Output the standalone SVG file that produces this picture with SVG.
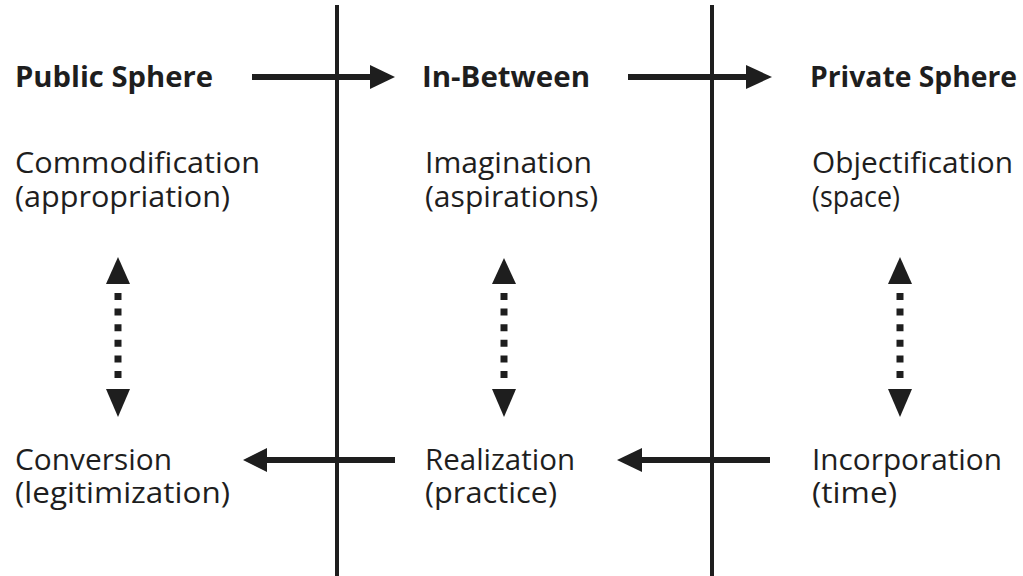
<svg xmlns="http://www.w3.org/2000/svg" width="1023" height="576" viewBox="0 0 1023 576">
<style>
.t{font-family:"Open Sans","Noto Sans",sans-serif;font-size:29px;fill:#1e1e1e}
.h{font-family:"Open Sans","Noto Sans",sans-serif;font-size:28px;font-weight:bold;fill:#1e1e1e}
.ln{stroke:#1e1e1e;stroke-width:4;fill:none}
.ar{stroke:#1e1e1e;stroke-width:6;fill:none}
.dt{stroke:#1e1e1e;stroke-width:7;stroke-dasharray:7 8.6;fill:none}
.hd{fill:#1e1e1e}
</style>
<rect width="1023" height="576" fill="#ffffff"/>
<g id="dividers">
<line class="ln" x1="337" y1="5" x2="337" y2="576"/>
<line class="ln" x1="712" y1="5" x2="712" y2="576"/>
</g>
<g id="connectors">
<line class="ar" x1="252" y1="77" x2="374" y2="77"/>
<polygon class="hd" points="370,65 395,77 370,89"/>
<line class="ar" x1="628" y1="77" x2="750" y2="77"/>
<polygon class="hd" points="746,65 772,77 746,89"/>
<line class="ar" x1="395" y1="460" x2="263" y2="460"/>
<polygon class="hd" points="267,448 243,460 267,472"/>
<line class="ar" x1="770" y1="460" x2="638" y2="460"/>
<polygon class="hd" points="642,448 617,460 642,472"/>
<line class="dt" x1="118" y1="293" x2="118" y2="378"/>
<polygon class="hd" points="106,284 118,257 130,284"/>
<polygon class="hd" points="106,389 118,417 130,389"/>
<line class="dt" x1="504" y1="293" x2="504" y2="378"/>
<polygon class="hd" points="492,284 504,258 516,284"/>
<polygon class="hd" points="492,389 504,417 516,389"/>
<line class="dt" x1="900" y1="293" x2="900" y2="378"/>
<polygon class="hd" points="888,284 900,257 912,284"/>
<polygon class="hd" points="888,389 900,417 912,389"/>
</g>
<g id="public-sphere"><text class="h" x="15" y="87" textLength="198" lengthAdjust="spacingAndGlyphs">Public Sphere</text></g>
<g id="in-between"><text class="h" x="422" y="87" textLength="168" lengthAdjust="spacingAndGlyphs">In-Between</text></g>
<g id="private-sphere"><text class="h" x="810" y="87" textLength="207" lengthAdjust="spacingAndGlyphs">Private Sphere</text></g>
<g id="commodification">
<text class="t" x="15" y="173" textLength="245" lengthAdjust="spacingAndGlyphs">Commodification</text>
<text class="t" x="15" y="207" textLength="215" lengthAdjust="spacingAndGlyphs">(appropriation)</text>
</g>
<g id="imagination">
<text class="t" x="425" y="173" textLength="167" lengthAdjust="spacingAndGlyphs">Imagination</text>
<text class="t" x="425" y="207" textLength="173" lengthAdjust="spacingAndGlyphs">(aspirations)</text>
</g>
<g id="objectification">
<text class="t" x="812" y="173" textLength="201" lengthAdjust="spacingAndGlyphs">Objectification</text>
<text class="t" x="812" y="207" textLength="88" lengthAdjust="spacingAndGlyphs">(space)</text>
</g>
<g id="conversion">
<text class="t" x="15" y="470" textLength="157" lengthAdjust="spacingAndGlyphs">Conversion</text>
<text class="t" x="15" y="503" textLength="215" lengthAdjust="spacingAndGlyphs">(legitimization)</text>
</g>
<g id="realization">
<text class="t" x="425" y="470" textLength="150" lengthAdjust="spacingAndGlyphs">Realization</text>
<text class="t" x="425" y="503" textLength="132" lengthAdjust="spacingAndGlyphs">(practice)</text>
</g>
<g id="incorporation">
<text class="t" x="812" y="470" textLength="190" lengthAdjust="spacingAndGlyphs">Incorporation</text>
<text class="t" x="812" y="503" textLength="85" lengthAdjust="spacingAndGlyphs">(time)</text>
</g>
</svg>
